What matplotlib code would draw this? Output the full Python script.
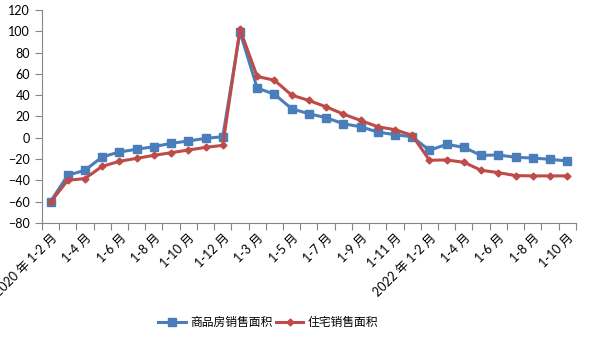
import matplotlib.pyplot as plt

plt.rcParams['font.family'] = ['Lato', 'Noto Sans CJK SC', 'DejaVu Sans']

# x 轴分类: 2020 1-2月 ... 2022 1-10月
months_2020 = ['1-2', '1-3', '1-4', '1-5', '1-6', '1-7', '1-8', '1-9', '1-10', '1-11', '1-12']
months_2021 = ['1-2', '1-3', '1-4', '1-5', '1-6', '1-7', '1-8', '1-9', '1-10', '1-11', '1-12']
months_2022 = ['1-2', '1-3', '1-4', '1-5', '1-6', '1-7', '1-8', '1-9', '1-10']

categories = (['2020 年 ' + m + ' 月' if i == 0 else m + ' 月' for i, m in enumerate(months_2020)]
              + [m + ' 月' for m in months_2021]
              + ['2022 年 ' + m + ' 月' if i == 0 else m + ' 月' for i, m in enumerate(months_2022)])

# 同比增速 (%)
commodity_area = [-60, -35.3, -30.6, -18.1, -13.4, -10.9, -8.4, -5.3, -3.1, -0.6, 0.9,
                  99.4, 46.6, 40.9, 27.2, 22.5, 18.8, 13.1, 10.3, 5.3, 2.8, 0.9,
                  -11.9, -6.2, -9.1, -16.6, -16.2, -18.4, -19.1, -20.3, -21.9]
housing_area = [-60.6, -40, -38.4, -26.9, -22.2, -19.4, -16.6, -14.1, -11.6, -9.1, -7.2,
                101.9, 57.5, 54, 40, 35, 29, 22.2, 16.2, 10.3, 7.5, 2.2,
                -21.2, -20.9, -23.1, -30.6, -32.8, -35.6, -35.9, -35.9, -35.9]

fig = plt.figure(figsize=(5.9, 3.56), dpi=100)
ax = fig.add_axes([0.071, 0.374, 0.905, 0.598])

x = range(len(categories))
ax.plot(x, commodity_area, color='#4A7EBB', lw=2.2, marker='s', ms=5.5, label='商品房销售面积')
ax.plot(x, housing_area, color='#BE4B48', lw=2.2, marker='D', ms=3.5, label='住宅销售面积')

ax.set_ylim(-80, 120)
ax.set_yticks(range(-80, 121, 20))
ax.set_xlim(-0.5, len(categories) - 0.5)

# 刻度线在分类边界, 标签每隔一个分类
ax.set_xticks([i - 0.5 for i in range(len(categories) + 1)])
ax.set_xticklabels([])
ax.set_xticks(list(range(0, len(categories), 2)), minor=True)
ax.set_xticklabels(categories[::2], minor=True, rotation=45, ha='right', va='top',
                   rotation_mode='anchor', fontsize=9)
ax.tick_params(axis='x', which='minor', length=0, pad=6)
ax.tick_params(axis='x', which='major', length=5, color='#868686')
ax.tick_params(axis='y', length=5, color='#868686', labelsize=9)

for s in ['top', 'right']:
    ax.spines[s].set_visible(False)
for s in ['left', 'bottom']:
    ax.spines[s].set_color('#868686')

fig.legend(loc='center', bbox_to_anchor=(0.455, 0.095), ncol=2, frameon=False,
           fontsize=8.5, handlelength=2.3, columnspacing=0.3, handletextpad=0.4)

fig.savefig('out.png')
